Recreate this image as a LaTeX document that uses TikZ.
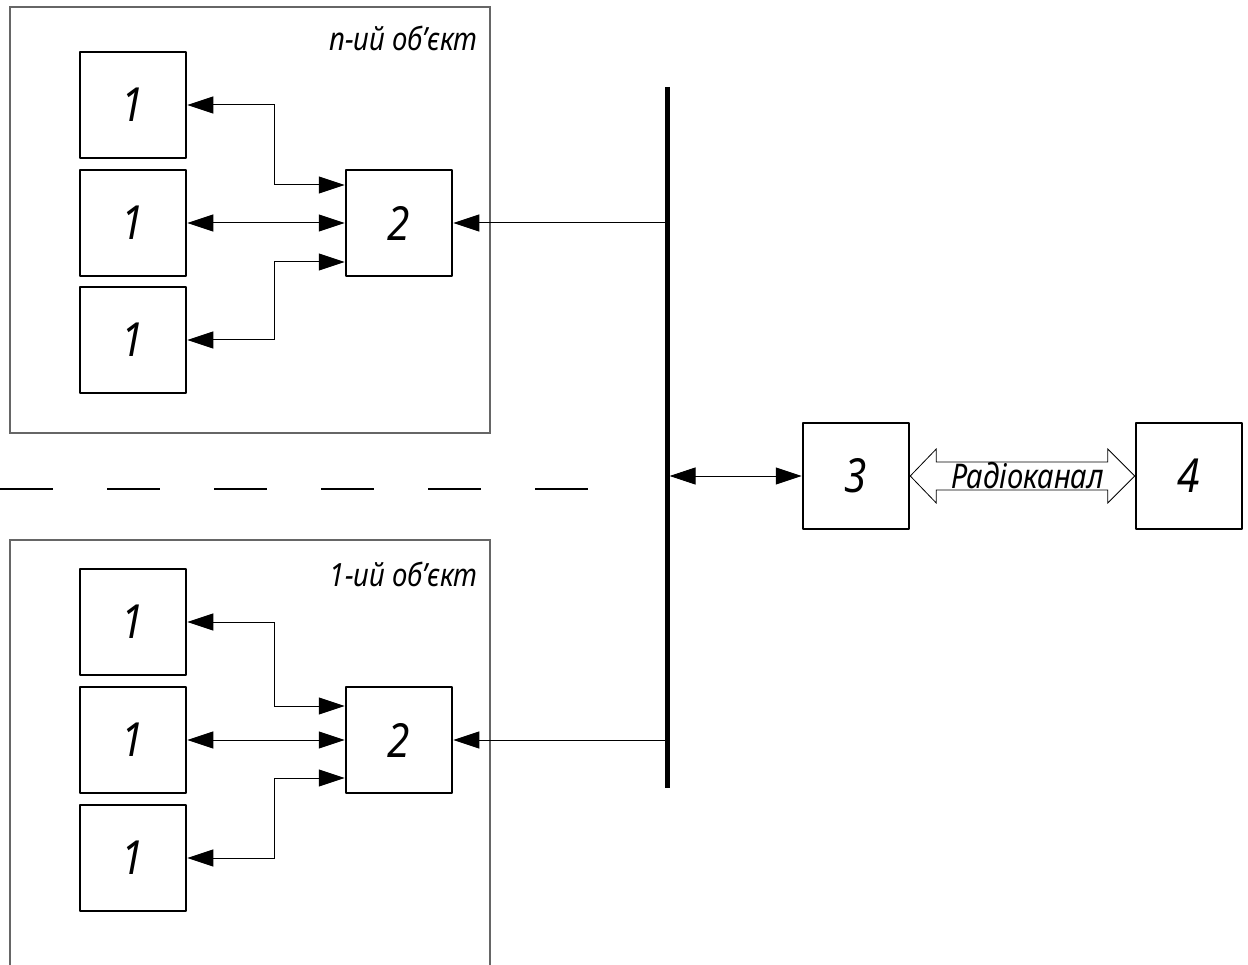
\documentclass[tikz,border=0pt]{standalone}
\usepackage{fontspec}
\setmainfont{Noto Sans}[FakeStretch=0.86]
\usetikzlibrary{arrows.meta,calc}
\newcommand\numf{\fontsize{47pt}{47pt}\selectfont\itshape}
\newcommand\lblf{\fontsize{32pt}{32pt}\selectfont\itshape}
\newcommand\radf{\fontsize{34pt}{34pt}\selectfont\itshape}
\begin{document}
\begin{tikzpicture}[x=1pt,y=-1pt,
  >={Triangle[length=26pt,width=17pt]},
  blk/.style={draw,line width=2.5pt,line join=round,minimum width=106pt,minimum height=106pt,inner sep=0pt,font=\numf},
  obj/.style={draw=black!60,line width=1.2pt},
  con/.style={draw=black,line width=1pt},
  bus/.style={line width=5pt},
  sep/.style={line width=2pt,dash pattern=on 53pt off 54pt},
  radio/.style={draw,line width=0.8pt,line join=miter},
  lbl/.style={anchor=base east,font=\lblf,inner sep=0pt}]
\useasboundingbox (0,0) rectangle (1248,965);
\path[fill=white] (0,0) rectangle (1248,965);
% object frames
\draw[obj] (10,7) rectangle (490,433);
\draw[obj] (10,966) -- (10,540) -- (490,540) -- (490,966);
\node[lbl] (ln) at (478,51) {n-ий об'єкт};
\node[lbl] (l1) at (478,586) {1-ий об'єкт};
% separator
\draw[sep] (0,489) -- (590,489);
% upper object
\node[blk] (a1) at (133,105) {1};
\node[blk] (a2) at (133,223) {1};
\node[blk] (a3) at (133,340) {1};
\node[blk] (a4) at (399,223) {2};
% lower object
\node[blk] (c1) at (133,622) {1};
\node[blk] (c2) at (133,740) {1};
\node[blk] (c3) at (133,858) {1};
\node[blk] (c4) at (399,740) {2};
% right side
\node[blk] (b3) at (856,476) {3};
\node[blk] (b4) at (1189,476) {4};
% bus
\coordinate (busT) at (667,87);
\coordinate (busB) at (667,788);
\coordinate (busR) at (669.5,87);
\draw[bus] (busT) -- (busB);
% connectors upper
\draw[con,<->] (a1.east) -- ++(87,0) |- ([yshift=38pt]a4.west);
\draw[con,<->] (a2) -- (a4);
\draw[con,<->] (a3.east) -- ++(87,0) |- ([yshift=-39pt]a4.west);
\draw[con,->] (a4.east -| busT) -- (a4.east);
% connectors lower
\draw[con,<->] (c1.east) -- ++(87,0) |- ([yshift=34pt]c4.west);
\draw[con,<->] (c2) -- (c4);
\draw[con,<->] (c3.east) -- ++(87,0) |- ([yshift=-38pt]c4.west);
\draw[con,->] (c4.east -| busT) -- (c4.east);
% bus to 3
\draw[con,<->] (b3.west -| busR) -- (b3.west);
% radio channel
\draw[radio] (b3.east) -- ++(26,-27) -- ++(0,13) -- ($(b4.west)+(-27,-14)$) -- ++(0,-13) -- (b4.west)
  -- ++(-27,27) -- ++(0,-13) -- ($(b3.east)+(26,14)$) -- ++(0,13) -- cycle;
\node[font=\radf,anchor=base,inner sep=0pt] (rk) at ($(b3.east)!.5!(b4.west)+(5,13)$) {Радіоканал};
\end{tikzpicture}
\end{document}
